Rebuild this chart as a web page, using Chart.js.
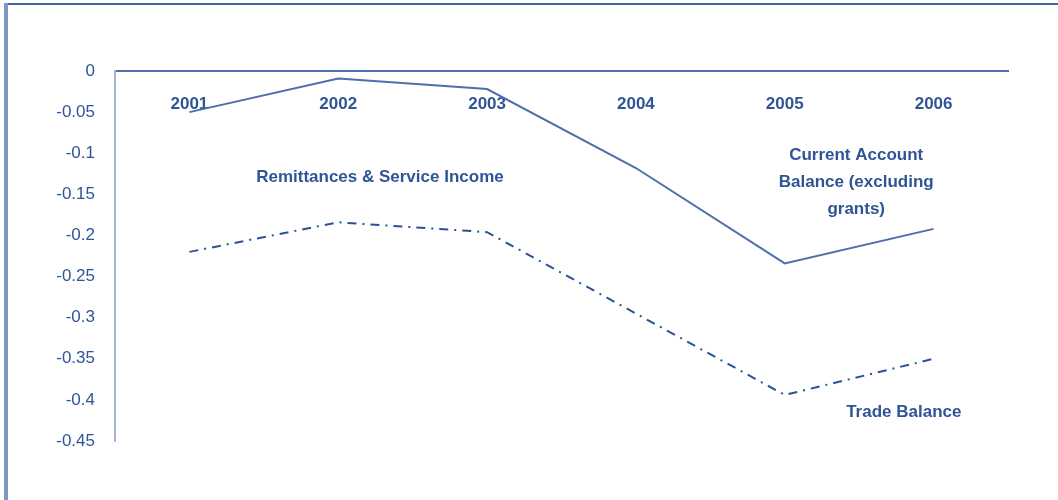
<!DOCTYPE html>
<html>
<head>
<meta charset="utf-8">
<script src="https://cdn.jsdelivr.net/npm/chart.js@4"></script>
<style>
  html, body { margin: 0; padding: 0; background: #fff; }
  #wrap { position: relative; width: 1058px; height: 500px; overflow: hidden; }
  #frameTop { position: absolute; left: 4px; top: 3px; width: 1054px; height: 2px; background: #3d66a8; }
  #frameLeft { position: absolute; left: 4px; top: 3px; width: 4px; height: 497px; background: #7f96c8; }
  canvas { position: absolute; left: 0; top: 0; }
</style>
</head>
<body>
<div id="wrap">
  <canvas id="chart" width="1058" height="500"></canvas>
  <div id="frameTop"></div>
  <div id="frameLeft"></div>
</div>
<script>
const years = ['2001', '2002', '2003', '2004', '2005', '2006'];
const currentAccount = [-0.05, -0.009, -0.022, -0.118, -0.234, -0.192];
const tradeBalance = [-0.22, -0.184, -0.196, -0.295, -0.394, -0.35];
const yTicks = [0, -0.05, -0.1, -0.15, -0.2, -0.25, -0.3, -0.35, -0.4, -0.45];

const textColor = '#2f5597';

// text notes placed at data coordinates (category index, value)
const notes = [
    { lines: ['Remittances & Service Income'], x: 1.28, y: -0.129 },
    { lines: ['Current Account', 'Balance (excluding', 'grants)'], x: 4.48, y: -0.102 },
    { lines: ['Trade Balance'], x: 4.80, y: -0.415 }
];

const notePlugin = {
    id: 'notes',
    afterDatasetsDraw(chart, args, opts) {
        const ctx = chart.ctx;
        const xs = chart.scales.x;
        const ys = chart.scales.y;
        ctx.save();
        ctx.font = opts.font;
        ctx.fillStyle = opts.color;
        ctx.textAlign = 'center';
        ctx.textBaseline = 'middle';
        opts.items.forEach(n => {
            const px = xs.getPixelForValue(n.x);
            let py = ys.getPixelForValue(n.y);
            n.lines.forEach(line => {
                ctx.fillText(line, px, py);
                py += opts.lineHeight;
            });
        });
        ctx.restore();
    }
};

new Chart(document.getElementById('chart'), {
    type: 'line',
    data: {
        labels: years,
        datasets: [
            {
                label: 'Current Account Balance (excluding grants)',
                data: currentAccount,
                borderColor: '#4d6fab',
                borderWidth: 2,
                pointRadius: 0,
                tension: 0,
                fill: false
            },
            {
                label: 'Trade Balance',
                data: tradeBalance,
                borderColor: '#2a5298',
                borderWidth: 2,
                borderDash: [9, 6, 2, 6],
                pointRadius: 0,
                tension: 0,
                fill: false
            }
        ]
    },
    options: {
        responsive: false,
        animation: false,
        layout: { padding: { left: 0, top: 71, right: 50, bottom: 59 } },
        plugins: {
            legend: { display: false },
            tooltip: { enabled: false },
            notes: {
                items: notes,
                font: 'bold 17px "Liberation Sans", Arial, sans-serif',
                color: textColor,
                lineHeight: 27
            }
        },
        scales: {
            x: {
                type: 'category',
                position: { y: 0 },
                offset: true,
                grid: { display: false, drawTicks: false },
                border: { display: true, color: '#4a70ae', width: 2 },
                ticks: {
                    color: textColor,
                    font: { family: '"Liberation Sans", Arial, sans-serif', size: 17, weight: 'bold' },
                    padding: 23,
                    maxRotation: 0
                }
            },
            y: {
                min: -0.45,
                max: 0,
                grid: { display: false, drawTicks: false },
                border: { display: true, color: '#a7b6d9', width: 2 },
                afterFit: s => { s.width = 115; },
                afterBuildTicks: s => { s.ticks = yTicks.map(v => ({ value: v })); },
                ticks: {
                    color: textColor,
                    font: { family: '"Liberation Sans", Arial, sans-serif', size: 17 },
                    padding: 20,
                    callback: v => String(Math.round(v * 100) / 100)
                }
            }
        }
    },
    plugins: [notePlugin]
});
</script>
</body>
</html>
